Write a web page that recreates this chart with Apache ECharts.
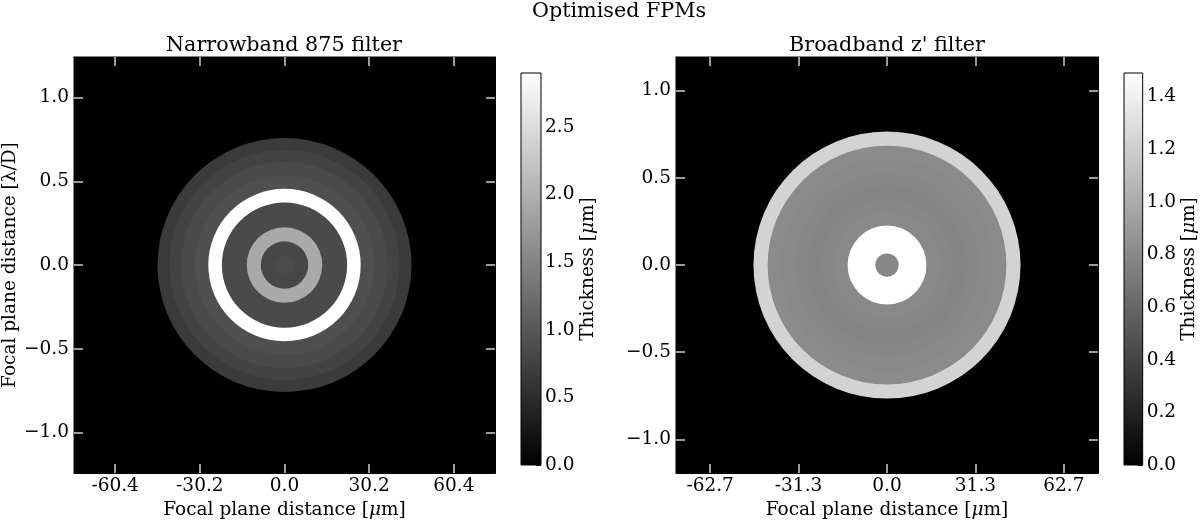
<!DOCTYPE html>
<html><head><meta charset="utf-8">
<script src="https://cdn.jsdelivr.net/npm/echarts@6/dist/echarts.min.js"></script>
<style>html,body{margin:0;padding:0;background:#fff}#c{width:1200px;height:525px}</style>
</head><body><div id="c"></div>
<script>
// ---------------- data ----------------
const suptitle = 'Optimised FPMs';
const panelTitles = ['Narrowband 875 filter', "Broadband z' filter"];
// concentric discs: outer radius [λ/D] and thickness [µm], drawn outermost first
const nbRadius    = [0.75, 0.68, 0.61, 0.53, 0.45, 0.37, 0.223, 0.14, 0.06];
const nbThickness = [0.67, 0.76, 0.84, 0.90, 2.90, 0.84, 1.92, 0.81, 0.85];
const bbRadius    = [0.755, 0.675, 0.60, 0.52, 0.45, 0.37, 0.30, 0.223, 0.066];
const bbThickness = [1.23, 0.81, 0.80, 0.79, 0.78, 0.79, 0.80, 1.49, 0.79];
// axis extents [λ/D]
const nbExtent = 1.243;
const bbExtent = 1.193;
const axisTicks = [-1, -0.5, 0, 0.5, 1];
const yTickLabels = ['\u22121.0', '\u22120.5', '0.0', '0.5', '1.0'];
const nbXTickLabels = ['-60.4', '-30.2', '0.0', '30.2', '60.4'];
const bbXTickLabels = ['-62.7', '-31.3', '0.0', '31.3', '62.7'];
// colour bars
const nbColorMax = 2.9;
const bbColorMax = 1.49;
const nbCbarTicks = [0, 0.5, 1.0, 1.5, 2.0, 2.5];
const bbCbarTicks = [0, 0.2, 0.4, 0.6, 0.8, 1.0, 1.2, 1.4];
const nbCbarMinor = [0.1,0.2,0.3,0.4,0.6,0.7,0.8,0.9,1.1,1.2,1.3,1.4,1.6,1.7,1.8,1.9,2.1,2.2,2.3,2.4,2.6,2.7,2.8];
const bbCbarMinor = [0.05,0.1,0.15,0.25,0.3,0.35,0.45,0.5,0.55,0.65,0.7,0.75,0.85,0.9,0.95,1.05,1.1,1.15,1.25,1.3,1.35,1.45];

// ---------------- chart ----------------
const FONT = 'DejaVu Serif';
const FS = 18.5;
const TFS = 20.7;
const chart = echarts.init(document.getElementById('c'), null, {renderer: 'canvas'});

function labelFor(list, v) {
  const i = axisTicks.findIndex(t => Math.abs(t - v) < 1e-6);
  return i >= 0 ? list[i] : '';
}
function mainAxis(grid, pos, ext, labels) {
  const isX = pos === 'top' || pos === 'bottom';
  return {
    type: 'value', gridIndex: grid, position: pos, min: -ext, max: ext,
    axisLine: {show: true, onZero: false, lineStyle: {color: '#000', width: 1}},
    axisTick: {show: true, inside: true, length: 9, customValues: axisTicks,
               lineStyle: {color: '#cfcfcf', width: 1.5}},
    axisLabel: {show: !!labels, customValues: axisTicks, margin: isX ? 4 : 5,
                fontFamily: FONT, fontSize: FS, color: '#000',
                formatter: v => labels ? labelFor(labels, v) : ''},
    splitLine: {show: false}
  };
}
const muName = 'Focal plane distance [{i|\u03bc}m]';
const richName = {fontFamily: FONT, fontSize: FS, color: '#000',
                  rich: {i: {fontFamily: FONT, fontSize: FS, fontStyle: 'italic', color: '#000'}}};

function cbarAxis(grid, max, ticks, minor) {
  return [{
    type: 'value', gridIndex: grid, position: 'right', min: 0, max: max,
    axisLine: {show: false, onZero: false}, splitLine: {show: false},
    axisTick: {show: true, inside: true, length: 5, customValues: ticks, lineStyle: {color: '#000', width: 1}},
    axisLabel: {customValues: ticks, margin: 4, fontFamily: FONT, fontSize: FS, color: '#000',
                formatter: v => v.toFixed(1)},
    name: 'Thickness [{i|\u03bc}m]', nameLocation: 'middle', nameGap: 36, nameRotate: 90,
    nameTextStyle: richName
  }, {
    type: 'value', gridIndex: grid, position: 'right', min: 0, max: max,
    axisLine: {show: false, onZero: false}, splitLine: {show: false},
    axisTick: {show: true, inside: true, length: 2.8, customValues: minor, lineStyle: {color: '#000', width: 0.8}},
    axisLabel: {show: false}
  }];
}

function ringItem(params, api) {
  const c = api.coord([api.value(0), api.value(1)]);
  const s = api.size([api.value(2), api.value(2)]);
  return {type: 'circle', shape: {cx: c[0], cy: c[1], r: s[0]},
          style: {fill: api.visual('color')}};
}
function cbarItem(params, api) {
  const p0 = api.coord([0, api.value(1)]);
  const p1 = api.coord([1, api.value(0)]);
  return {type: 'rect', shape: {x: p0[0], y: p0[1], width: p1[0] - p0[0], height: p1[1] - p0[1]},
          style: {fill: new echarts.graphic.LinearGradient(0, 1, 0, 0,
                   [{offset: 0, color: '#000000'}, {offset: 1, color: '#ffffff'}]),
                  stroke: '#000', lineWidth: 1}};
}

const nbData = nbRadius.map((r, i) => [0, 0, r, nbThickness[i]]);
const bbData = bbRadius.map((r, i) => [0, 0, r, bbThickness[i]]);

const xMainL = mainAxis(0, 'bottom', nbExtent, nbXTickLabels);
Object.assign(xMainL, {name: muName, nameLocation: 'middle', nameGap: 24, nameTextStyle: richName});
const xMainR = mainAxis(2, 'bottom', bbExtent, bbXTickLabels);
Object.assign(xMainR, {name: muName, nameLocation: 'middle', nameGap: 24, nameTextStyle: richName});
const yMainL = mainAxis(0, 'left', nbExtent, yTickLabels);
Object.assign(yMainL, {name: 'Focal plane distance [\u03bb/D]', nameLocation: 'middle', nameGap: 54,
                       nameRotate: 90, nameTextStyle: {fontFamily: FONT, fontSize: FS, color: '#000'}});
const yMainR = mainAxis(2, 'left', bbExtent, yTickLabels);

const titleStyle = {fontFamily: FONT, fontSize: TFS, fontWeight: 'normal', color: '#000'};
const option = {
  animation: false,
  backgroundColor: '#fff',
  title: [
    {text: suptitle, left: 619, top: 1, padding: 0, textAlign: 'center', textStyle: titleStyle},
    {text: panelTitles[0], left: 284, top: 35, padding: 0, textAlign: 'center', textStyle: titleStyle},
    {text: panelTitles[1], left: 887, top: 35, padding: 0, textAlign: 'center', textStyle: titleStyle}
  ],
  grid: [
    {left: 73, top: 57, width: 422, height: 423, show: true, backgroundColor: '#000', borderColor: '#000', borderWidth: 1},
    {left: 521, top: 73, width: 20, height: 392, show: false},
    {left: 676, top: 57, width: 422, height: 423, show: true, backgroundColor: '#000', borderColor: '#000', borderWidth: 1},
    {left: 1124, top: 73, width: 20, height: 392, show: false}
  ],
  xAxis: [
    xMainL, mainAxis(0, 'top', nbExtent, null),
    xMainR, mainAxis(2, 'top', bbExtent, null),
    {type: 'value', gridIndex: 1, min: 0, max: 1, show: false},
    {type: 'value', gridIndex: 3, min: 0, max: 1, show: false}
  ],
  yAxis: [
    yMainL, mainAxis(0, 'right', nbExtent, null),
    yMainR, mainAxis(2, 'right', bbExtent, null),
    ...cbarAxis(1, nbColorMax, nbCbarTicks, nbCbarMinor),
    ...cbarAxis(3, bbColorMax, bbCbarTicks, bbCbarMinor)
  ],
  visualMap: [
    {show: false, type: 'continuous', seriesIndex: 0, dimension: 3, min: 0, max: nbColorMax,
     inRange: {color: ['#000000', '#ffffff']}},
    {show: false, type: 'continuous', seriesIndex: 1, dimension: 3, min: 0, max: bbColorMax,
     inRange: {color: ['#000000', '#ffffff']}}
  ],
  series: [
    {type: 'custom', xAxisIndex: 0, yAxisIndex: 0, renderItem: ringItem, data: nbData,
     encode: {x: 0, y: 1}, clip: true, silent: true},
    {type: 'custom', xAxisIndex: 2, yAxisIndex: 2, renderItem: ringItem, data: bbData,
     encode: {x: 0, y: 1}, clip: true, silent: true},
    {type: 'custom', xAxisIndex: 4, yAxisIndex: 4, renderItem: cbarItem, data: [[0, nbColorMax]],
     encode: {y: [0, 1]}, silent: true, z: 1},
    {type: 'custom', xAxisIndex: 5, yAxisIndex: 6, renderItem: cbarItem, data: [[0, bbColorMax]],
     encode: {y: [0, 1]}, silent: true, z: 1}
  ]
};
chart.setOption(option);
</script>
</body></html>
